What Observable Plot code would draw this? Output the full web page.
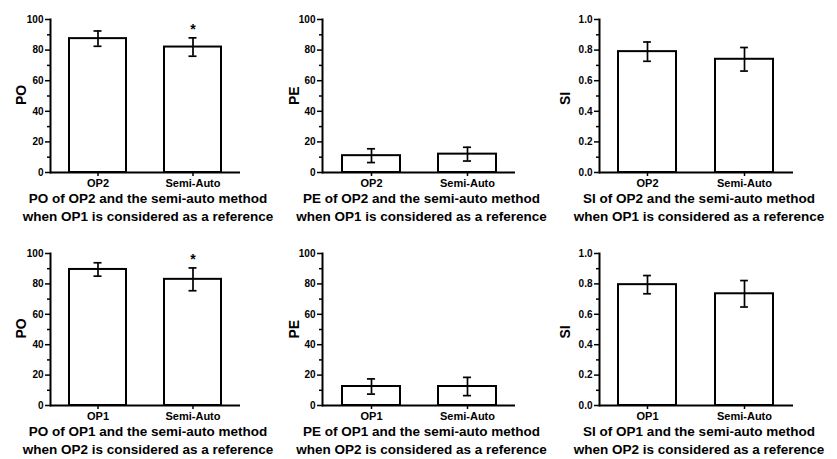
<!DOCTYPE html>
<html><head><meta charset="utf-8">
<script src="https://cdn.jsdelivr.net/npm/d3@7"></script>
<script src="https://cdn.jsdelivr.net/npm/@observablehq/plot@0.6"></script>
<style>
body{margin:0;background:#fff;}
#root{position:relative;width:837px;height:459px;overflow:hidden;background:#fff;font-family:"Liberation Sans",Arial,sans-serif;}
.panel{position:absolute;}
.cap{position:absolute;text-align:center;white-space:nowrap;font-weight:bold;font-size:13.5px;line-height:18px;color:#000;}
</style></head><body><div id="root"></div>
<script>
const catsTop = ["OP2", "Semi-Auto"];
const catsBottom = ["OP1", "Semi-Auto"];
const poTopMean = [87.5, 82], poTopErr = [5, 6];
const peTopMean = [11, 12], peTopErr = [4.5, 4.5];
const siTopMean = [0.79, 0.74], siTopErr = [0.063, 0.077];
const poBotMean = [89.5, 83], poBotErr = [4.4, 7.5];
const peBotMean = [12.5, 12.5], peBotErr = [5, 6];
const siBotMean = [0.795, 0.735], siBotErr = [0.06, 0.087];
const stars = ["", "*"];
const pctTicks = [0, 20, 40, 60, 80, 100], pctMinor = [10, 30, 50, 70, 90];
const siTicks = [0, 0.2, 0.4, 0.6, 0.8, 1.0], siMinor = [0.1, 0.3, 0.5, 0.7, 0.9];
const captionsTop = [
  ["PO of OP2 and the semi-auto method", "when OP1 is considered as a reference"],
  ["PE of OP2 and the semi-auto method", "when OP1 is considered as a reference"],
  ["SI of OP2 and the semi-auto method", "when OP1 is considered as a reference"]
];
const captionsBottom = [
  ["PO of OP1 and the semi-auto method", "when OP2 is considered as a reference"],
  ["PE of OP1 and the semi-auto method", "when OP2 is considered as a reference"],
  ["SI of OP1 and the semi-auto method", "when OP2 is considered as a reference"]
];

const root = document.getElementById("root");
const FONT = '"Liberation Sans", Arial, sans-serif';

function panel(o) {
  const data = o.cats.map((c, i) => ({c, m: o.mean[i], lo: o.mean[i] - o.err[i], hi: o.mean[i] + o.err[i], s: o.star ? o.star[i] : ""}));
  const W = 280, H = 196, ml = 50, mt = o.mt;
  const L = W - ml - o.mr;
  const bw = 0.3 * L;
  const capInset = (bw - 8) / 2;
  const plot = Plot.plot({
    width: W, height: H, marginLeft: ml, marginRight: o.mr, marginTop: mt, marginBottom: H - o.zero,
    style: {fontFamily: FONT, fontWeight: "bold", fontSize: "10px", color: "#000", background: "transparent", overflow: "visible"},
    x: {domain: o.cats, paddingInner: 0.4, paddingOuter: 0.2, label: null},
    y: {domain: o.domain, label: null},
    marks: [
      Plot.barY(data, {x: "c", y: "m", fill: "white", stroke: "black", strokeWidth: 2}),
      Plot.ruleX(data, {x: "c", y1: "lo", y2: "hi", stroke: "black", strokeWidth: 1.7}),
      Plot.tickY(data, {x: "c", y: "lo", insetLeft: capInset, insetRight: capInset, stroke: "black", strokeWidth: 1.7}),
      Plot.tickY(data, {x: "c", y: "hi", insetLeft: capInset, insetRight: capInset, stroke: "black", strokeWidth: 1.7}),
      Plot.text(data, {x: "c", y: "hi", text: "s", dy: -8, fontSize: 14, fontWeight: "bold"}),
      Plot.frame({anchor: "left", stroke: "black", strokeWidth: 2}),
      Plot.ruleY([o.domain[0]], {stroke: "black", strokeWidth: 2}),
      Plot.axisY({ticks: o.ticks, tickSize: 5, tickPadding: 2, tickFormat: o.fmt, label: null, strokeWidth: 1.5, fontSize: 10}),
      Plot.axisY({ticks: o.minor, tickSize: 3, tickFormat: () => "", label: null, strokeWidth: 1.5}),
      Plot.axisX({tickSize: 4, tickPadding: 3, label: null, strokeWidth: 1.5, fontSize: 11}),
      Plot.text([o.label], {frameAnchor: "left", rotate: -90, dx: o.labelDx, dy: 9, fontSize: 14, fontWeight: "bold"})
    ]
  });
  const div = document.createElement("div");
  div.className = "panel";
  div.style.left = o.left + "px";
  div.style.top = o.top + "px";
  div.appendChild(plot);
  root.appendChild(div);
  const cap = document.createElement("div");
  cap.className = "cap";
  const cx = o.left + ml + L / 2 + 3;
  cap.style.left = (cx - 150) + "px";
  cap.style.width = "300px";
  cap.style.top = (o.top + o.capY) + "px";
  cap.innerHTML = o.caption.map(t => `<div>${t}</div>`).join("");
  root.appendChild(cap);
}

const f0 = d3.format("d"), f1 = d3.format(".1f");
const rows = [
  {top: 0, cats: catsTop, caps: captionsTop, sets: [[poTopMean, poTopErr], [peTopMean, peTopErr], [siTopMean, siTopErr]]},
  {top: 233, cats: catsBottom, caps: captionsBottom, sets: [[poBotMean, poBotErr], [peBotMean, peBotErr], [siBotMean, siBotErr]]}
];
const cols = [
  {left: 0, mr: 40, label: "PO", labelDx: -29, domain: [0, 100], ticks: pctTicks, minor: pctMinor, fmt: f0, star: stars},
  {left: 272, mr: 37, label: "PE", labelDx: -28, domain: [0, 100], ticks: pctTicks, minor: pctMinor, fmt: f0, star: null},
  {left: 549, mr: 36, label: "SI", labelDx: -34, domain: [0, 1], ticks: siTicks, minor: siMinor, fmt: f1, star: null}
];
rows.forEach((r, ri) => {
  cols.forEach((c, ci) => {
    panel({
      ...c, top: r.top, cats: r.cats, mean: r.sets[ci][0], err: r.sets[ci][1],
      caption: r.caps[ci], mt: ri === 0 ? 19 : 20, zero: 172, capY: 190
    });
  });
});
</script></body></html>
